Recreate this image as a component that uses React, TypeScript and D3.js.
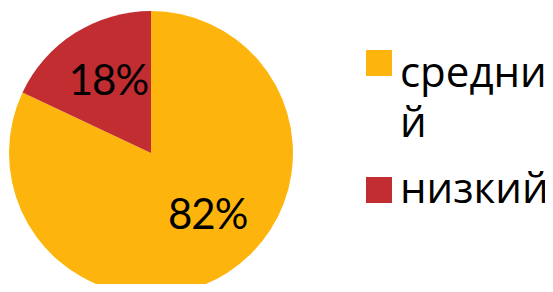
import React from "react";
import * as d3 from "d3";

const categories = ["средний", "низкий"];
const values = [82, 18];
const colors = ["#FDB50E", "#C22D32"];

const width = 553;
const height = 292;

export default function App() {
  const cx = 151;
  const cy = 153;
  const radius = 142;

  const pie = d3.pie<number>().sort(null).startAngle(0).endAngle(2 * Math.PI);
  const arcs = pie(values);
  const arc = d3.arc<d3.PieArcDatum<number>>().innerRadius(0).outerRadius(radius);
  const labelArc = d3.arc<d3.PieArcDatum<number>>().innerRadius(0).outerRadius(radius * 1.12);

  // excel pushes the big label a bit to the right
  const nudge = [14, 0];

  return (
    <div style={{ margin: -8 }}>
      <svg width={width} height={height} style={{ display: "block" }}>
        <g transform={`translate(${cx},${cy})`}>
          {arcs.map((a, i) => (
            <path key={i} d={arc(a) || ""} fill={colors[i]} />
          ))}
          {arcs.map((a, i) => {
            const [x, y] = labelArc.centroid(a);
            return (
              <text
                key={"l" + i}
                x={x + nudge[i]}
                y={y - 7}
                textAnchor="middle"
                dominantBaseline="central"
                fontFamily="Lato, 'Noto Sans', sans-serif"
                fontSize={42}
                letterSpacing={-1}
                fill="#000"
              >
                {values[i]}%
              </text>
            );
          })}
        </g>
        <g fontFamily="'Open Sans', 'DejaVu Sans', sans-serif" fontSize={42} fill="#000">
          <rect x={366} y={50} width={26} height={26} fill={colors[0]} />
          <text x={400} y={87}>
            <tspan x={400}>средни</tspan>
            <tspan x={400} dy={50}>й</tspan>
          </text>
          <rect x={366} y={177} width={26} height={26} fill={colors[1]} />
          <text x={400} y={203}>{categories[1]}</text>
        </g>
      </svg>
    </div>
  );
}
